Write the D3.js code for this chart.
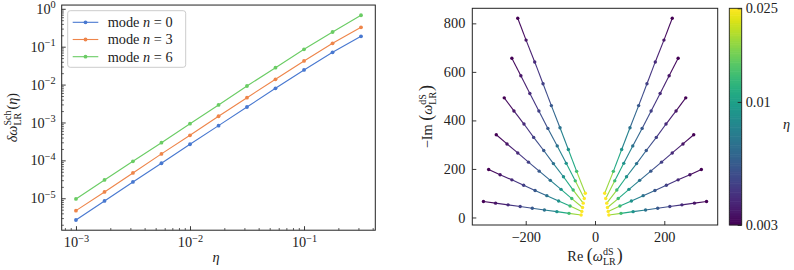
<html>
<head>
<meta charset="utf-8">
<script src="https://d3js.org/d3.v7.min.js"></script>
<style>
  body { margin: 0; background: #fff; }
  svg { font-family: "Liberation Serif", "DejaVu Serif", serif; }
  .tick text { font-family: "Liberation Serif", "DejaVu Serif", serif; font-size: 14.3px; fill: #222; }
</style>
</head>
<body>
<svg id="fig" width="794" height="270"></svg>
<script>
// ---- left panel data: delta omega vs eta (log-log) ----
const eta = [0.001, 0.00178, 0.00316, 0.00562, 0.01, 0.0178, 0.0316, 0.0562, 0.1, 0.178, 0.316];
const dw0 = [2.67e-6, 8.49e-6, 2.69e-5, 8.38e-5, 2.66e-4, 8.24e-4, 2.56e-3, 7.98e-3, 2.43e-2, 7.11e-2, 0.188];
const dw3 = [4.71e-6, 1.47e-5, 4.66e-5, 1.48e-4, 4.59e-4, 1.46e-3, 4.51e-3, 1.38e-2, 4.20e-2, 0.123, 0.325];
const dw6 = [9.6e-6, 3.04e-5, 9.46e-5, 2.93e-4, 9.29e-4, 2.90e-3, 9.18e-3, 2.79e-2, 8.53e-2, 0.244, 0.675];
const modeNames = ["0", "3", "6"];
const modeColors = ["#4878d0", "#ee854a", "#6acc64"];
const xTicksL = [1e-3, 1e-2, 1e-1];
const yTicksL = [1e-5, 1e-4, 1e-3, 1e-2, 1e-1, 1e0];

// ---- right panel data: dS modes, one row per overtone, columns follow etaDS ----
const etaDS = [0.003, 0.00337, 0.00385, 0.00447, 0.00535, 0.00666, 0.0088, 0.0130, 0.025];
const reDS = [
  [223, 199, 174, 150, 126, 101, 77, 53, 28],
  [240, 214, 188, 162, 136, 109, 83, 57, 31],
  [262, 234, 205, 177, 148, 120, 91, 63, 34],
  [285, 254, 223, 192, 161, 129, 98, 67, 36],
  [307, 274, 240, 206, 173, 139, 105, 72, 38],
  [322, 287, 251, 216, 181, 146, 110, 75, 40]
];
const imDS = [
  [821, 731, 641, 551, 461, 370, 280, 190, 100],
  [656, 584, 511, 439, 367, 295, 223, 151, 78],
  [493, 439, 385, 330, 276, 222, 168, 113, 59],
  [341, 303, 266, 228, 191, 153, 116, 78, 41],
  [198, 176, 155, 133, 111, 90, 68, 47, 25],
  [66, 59, 52, 45, 38, 31, 24, 17, 10]
];
const xTicksR = [-200, 0, 200];
const yTicksR = [0, 200, 400, 600, 800];
const cTicks = [0.003, 0.01, 0.025];
const cTickLabels = ["0.003", "0.01", "0.025"];

const svg = d3.select("#fig");
const ink = "#222";
const FS = 14.3;

// write a label with italic parts and stacked super/subscripts
function mathText(text, parts) {
  let cur = 0, pendingDx = 0;
  parts.forEach(p => {
    if (p.sup != null) {
      const s = text.append("tspan").attr("font-size", FS * 0.7)
        .attr("dx", pendingDx).attr("dy", -0.42 * FS - cur).text(p.sup);
      cur = -0.42 * FS;
      const w1 = s.node().getComputedTextLength();
      const b = text.append("tspan").attr("font-size", FS * 0.7)
        .attr("dx", -w1).attr("dy", 0.3 * FS - cur).text(p.sub);
      cur = 0.3 * FS;
      const w2 = b.node().getComputedTextLength();
      pendingDx = Math.max(0, w1 - w2) + 1;
    } else {
      text.append("tspan").attr("dx", pendingDx).attr("dy", -cur)
        .attr("font-style", p.i ? "italic" : null)
        .attr("font-size", p.big ? FS * 1.25 : null)
        .text(p.t);
      cur = 0; pendingDx = 0;
    }
  });
}

function powTen(sel) {
  sel.selectAll(".tick text").each(function (d) {
    const e = Math.round(Math.log10(d));
    const t = d3.select(this).text("");
    t.append("tspan").text("10");
    t.append("tspan").attr("font-size", "72%").attr("dy", "-0.55em").text(e < 0 ? "\u2212" + (-e) : e);
  });
}

function styleAxis(g) {
  g.attr("font-family", null).attr("font-size", null);
  g.select(".domain").remove();
  g.selectAll(".tick line").attr("stroke", ink).attr("stroke-width", 0.9);
}

// ================= left panel =================
const L = { x0: 61.7, x1: 375.3, y0: 5.05, y1: 230.2 };
const xl = d3.scaleLog().domain([Math.pow(10, -3.125), Math.pow(10, -0.375)]).range([L.x0, L.x1]);
const yl = d3.scaleLog().domain([Math.pow(10, -5.843), Math.pow(10, 0.099)]).range([L.y1, L.y0]);

function minorLog(scale) {
  const [a, b] = scale.domain();
  const out = [];
  for (let e = Math.floor(Math.log10(a)); e <= Math.ceil(Math.log10(b)); e++)
    for (let m = 2; m <= 9; m++) { const v = m * Math.pow(10, e); if (v >= a && v <= b) out.push(v); }
  return out;
}

const gxL = svg.append("g").attr("transform", `translate(0,${L.y1})`);
gxL.append("g").call(d3.axisBottom(xl).tickValues(minorLog(xl)).tickSize(-2.2).tickFormat(""))
  .call(styleAxis).selectAll(".tick line").attr("stroke-width", 0.7);
gxL.append("g").call(d3.axisBottom(xl).tickValues(xTicksL).tickSize(-4).tickPadding(7))
  .call(styleAxis).call(powTen);

const gyL = svg.append("g").attr("transform", `translate(${L.x0},0)`);
gyL.append("g").call(d3.axisLeft(yl).tickValues(minorLog(yl)).tickSize(-2.2).tickFormat(""))
  .call(styleAxis).selectAll(".tick line").attr("stroke-width", 0.7);
gyL.append("g").call(d3.axisLeft(yl).tickValues(yTicksL).tickSize(-4).tickPadding(6))
  .call(styleAxis).call(powTen);

const seriesL = [dw0, dw3, dw6];
const lineL = d3.line().x((d, i) => xl(eta[i])).y(d => yl(d));
seriesL.forEach((s, k) => {
  svg.append("path").attr("d", lineL(s)).attr("fill", "none")
    .attr("stroke", modeColors[k]).attr("stroke-width", 1.1);
  svg.append("g").selectAll("circle").data(s).join("circle")
    .attr("cx", (d, i) => xl(eta[i])).attr("cy", d => yl(d)).attr("r", 1.9)
    .attr("fill", modeColors[k]);
});

svg.append("rect").attr("x", L.x0).attr("y", L.y0).attr("width", L.x1 - L.x0).attr("height", L.y1 - L.y0)
  .attr("fill", "none").attr("stroke", ink).attr("stroke-width", 1);

// legend
const leg = svg.append("g");
leg.append("rect").attr("x", 67.7).attr("y", 10.7).attr("width", 118).attr("height", 56.6)
  .attr("rx", 2.5).attr("fill", "#fff").attr("fill-opacity", 0.8).attr("stroke", "#ccc").attr("stroke-width", 1);
modeNames.forEach((n, k) => {
  const y = 22.3 + k * 17.2;
  leg.append("line").attr("x1", 72.7).attr("x2", 98.3).attr("y1", y).attr("y2", y)
    .attr("stroke", modeColors[k]).attr("stroke-width", 1.1);
  leg.append("circle").attr("cx", 85.5).attr("cy", y).attr("r", 1.9).attr("fill", modeColors[k]);
  const t = leg.append("text").attr("x", 107.7).attr("y", y + 4.8).attr("font-size", FS).attr("fill", ink);
  t.append("tspan").text("mode ");
  t.append("tspan").attr("font-style", "italic").text("n");
  t.append("tspan").text(" = " + n);
});

// axis labels
svg.append("text").attr("x", 216).attr("y", 262).attr("text-anchor", "middle")
  .attr("font-size", FS).attr("font-style", "italic").attr("fill", ink).text("η");
const ylab = svg.append("text").attr("transform", "translate(17,117.6) rotate(-90)")
  .attr("text-anchor", "middle").attr("font-size", FS).attr("fill", ink);
mathText(ylab, [{ t: "δω", i: true }, { sup: "Sch", sub: "LR" }, { t: "(" }, { t: "η", i: true }, { t: ")" }]);

// ================= right panel =================
const R = { x0: 472.3, x1: 717.7, y0: 8.3, y1: 225 };
const xr = d3.scaleLinear().domain([-354.2, 354.2]).range([R.x0, R.x1]);
const yr = d3.scaleLinear().domain([-31, 862]).range([R.y1, R.y0]);
const cnorm = d3.scaleLog().domain([0.003, 0.025]).range([0, 1]);
const cmap = v => d3.interpolateViridis(cnorm(v));

svg.append("g").attr("transform", `translate(0,${R.y1})`)
  .call(d3.axisBottom(xr).tickValues(xTicksR).tickSize(-4).tickPadding(7)
    .tickFormat(d => d < 0 ? "\u2212" + (-d) : d)).call(styleAxis);
svg.append("g").attr("transform", `translate(${R.x0},0)`)
  .call(d3.axisLeft(yr).tickValues(yTicksR).tickSize(-4).tickPadding(7)).call(styleAxis);

const gR = svg.append("g");
[1, -1].forEach(sgn => {
  reDS.forEach((row, k) => {
    for (let j = 0; j < row.length - 1; j++) {
      gR.append("line")
        .attr("x1", xr(sgn * row[j])).attr("y1", yr(imDS[k][j]))
        .attr("x2", xr(sgn * row[j + 1])).attr("y2", yr(imDS[k][j + 1]))
        .attr("stroke", cmap(Math.sqrt(etaDS[j] * etaDS[j + 1]))).attr("stroke-width", 1.1);
    }
  });
});
[1, -1].forEach(sgn => {
  reDS.forEach((row, k) => {
    gR.append("g").selectAll("circle").data(row).join("circle")
      .attr("cx", d => xr(sgn * d)).attr("cy", (d, j) => yr(imDS[k][j])).attr("r", 1.7)
      .attr("fill", (d, j) => cmap(etaDS[j]));
  });
});

svg.append("rect").attr("x", R.x0).attr("y", R.y0).attr("width", R.x1 - R.x0).attr("height", R.y1 - R.y0)
  .attr("fill", "none").attr("stroke", ink).attr("stroke-width", 1);

const xlabR = svg.append("text").attr("x", 595).attr("y", 261).attr("text-anchor", "middle")
  .attr("font-size", FS).attr("fill", ink);
mathText(xlabR, [{ t: "Re " }, { t: "(", big: true }, { t: "ω", i: true }, { sup: "dS", sub: "LR" }, { t: ")", big: true }]);
const ylabR = svg.append("text").attr("transform", "translate(432,116.6) rotate(-90)")
  .attr("text-anchor", "middle").attr("font-size", FS).attr("fill", ink);
mathText(ylabR, [{ t: "\u2212Im " }, { t: "(", big: true }, { t: "ω", i: true }, { sup: "dS", sub: "LR" }, { t: ")", big: true }]);

// ================= colorbar =================
const C = { x0: 729.3, x1: 741.7, y0: 8.3, y1: 225 };
const yc = d3.scaleLog().domain([0.003, 0.025]).range([C.y1, C.y0]);
const nSteps = 120;
const stepH = (C.y1 - C.y0) / nSteps;
svg.append("g").selectAll("rect").data(d3.range(nSteps)).join("rect")
  .attr("x", C.x0).attr("width", C.x1 - C.x0)
  .attr("y", i => C.y1 - (i + 1) * stepH - 0.3).attr("height", stepH + 0.6)
  .attr("fill", i => cmap(yc.invert(C.y1 - (i + 0.5) * stepH)));
svg.append("rect").attr("x", C.x0).attr("y", C.y0).attr("width", C.x1 - C.x0).attr("height", C.y1 - C.y0)
  .attr("fill", "none").attr("stroke", ink).attr("stroke-width", 0.9);
svg.append("g").attr("transform", `translate(${C.x1},0)`)
  .call(d3.axisRight(yc).tickValues(cTicks).tickSize(-4).tickPadding(4)
    .tickFormat((d, i) => cTickLabels[i])).call(styleAxis);
svg.append("text").attr("x", 786.5).attr("y", 129).attr("text-anchor", "middle")
  .attr("font-size", FS).attr("font-style", "italic").attr("fill", ink).text("η");
</script>
</body>
</html>
